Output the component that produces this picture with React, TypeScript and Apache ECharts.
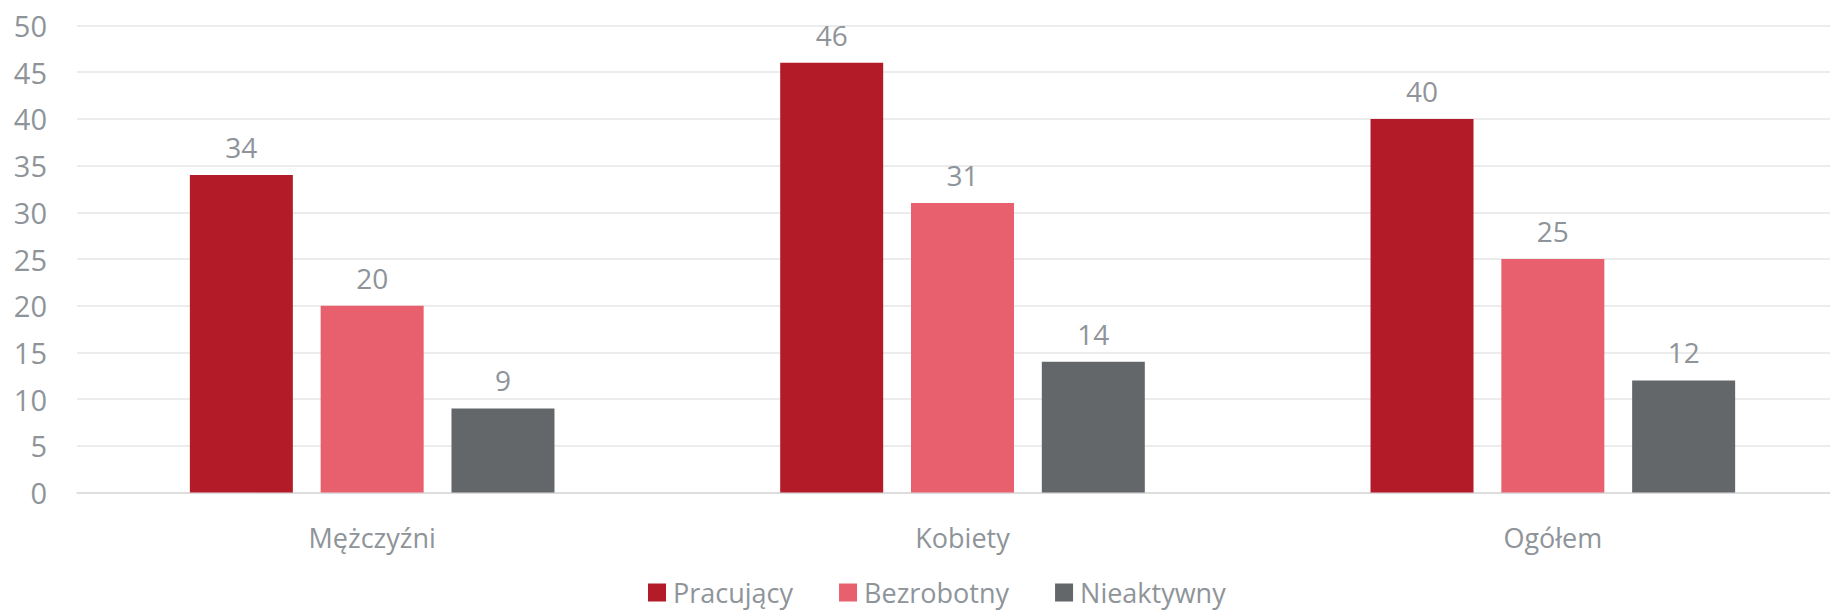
import React, { useEffect, useRef } from "react";
import * as echarts from "echarts";

const categories = ["Mężczyźni", "Kobiety", "Ogółem"];
const seriesNames = ["Pracujący", "Bezrobotny", "Nieaktywny"];
const pracujacy = [34, 46, 40];
const bezrobotny = [20, 31, 25];
const nieaktywny = [9, 14, 12];
const colors = ["#B31B29", "#E8606D", "#63676A"];

const FONT = "'Open Sans', sans-serif";
const TEXT = "#8E9499";

export default function App() {
  const ref = useRef<HTMLDivElement>(null);
  useEffect(() => {
    if (!ref.current) return;
    const chart = echarts.init(ref.current, undefined, { renderer: "svg" });
    const values = [pracujacy, bezrobotny, nieaktywny];
    chart.setOption({
      animation: false,
      backgroundColor: "#ffffff",
      textStyle: { fontFamily: FONT },
      grid: { left: 77, right: 2, top: 25.5, bottom: 118.5 },
      legend: {
        top: 579,
        left: 648,
        padding: 0,
        itemWidth: 18,
        itemHeight: 18,
        itemGap: 46,
        icon: "rect",
        textStyle: { color: TEXT, fontSize: 27, fontFamily: FONT, padding: [0, 0, 0, 2] },
        data: seriesNames,
      },
      xAxis: {
        type: "category",
        data: categories,
        axisLine: { show: true, lineStyle: { color: "#D9D9D9", width: 1.5 } },
        axisTick: { show: false },
        axisLabel: { color: TEXT, fontSize: 27, fontFamily: FONT, margin: 31 },
      },
      yAxis: {
        type: "value",
        min: 0,
        max: 50,
        interval: 5,
        axisLine: { show: false },
        axisTick: { show: false },
        splitLine: { lineStyle: { color: "#E6E6E6", width: 1.5 } },
        axisLabel: { color: TEXT, fontSize: 29, fontFamily: FONT, margin: 30 },
      },
      series: seriesNames.map((name, i) => ({
        name,
        type: "bar",
        data: values[i],
        barWidth: 103,
        barGap: "27%",
        itemStyle: { color: colors[i] },
        label: {
          show: true,
          position: "top",
          distance: 14,
          color: TEXT,
          fontSize: 28,
          fontFamily: FONT,
        },
      })),
    });
    return () => chart.dispose();
  }, []);
  return (
    <div
      style={{
        position: "absolute",
        left: 0,
        top: 0,
        width: 1830,
        height: 611,
        overflow: "hidden",
      }}
    >
      <div ref={ref} style={{ width: 1850, height: 611 }} />
    </div>
  );
}
